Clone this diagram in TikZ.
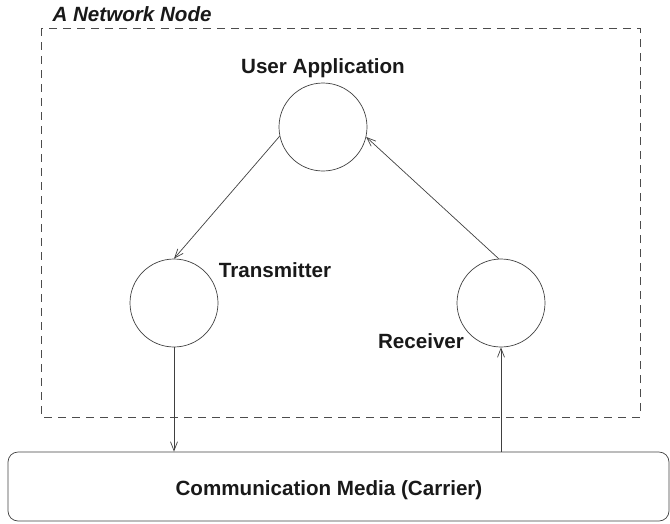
\documentclass[tikz,border=0pt]{standalone}
\usepackage{fontspec}
\setmainfont{Liberation Sans}
\usetikzlibrary{arrows.meta}

\begin{document}
\begin{tikzpicture}[x=1pt, y=-1pt,
    every node/.style = {font=\fontsize{20.6}{24}\selectfont\bfseries,
                         text=black!90},
    unit/.style  = {circle, draw=black!75, line width=0.7pt,
                    minimum size=88pt, inner sep=0pt},
    media/.style = {rectangle, rounded corners=10pt, draw=black!75,
                    line width=0.7pt, minimum width=661pt,
                    minimum height=69pt},
    flow/.style  = {draw=black!75, line width=0.7pt,
                    -{Straight Barb[length=9pt,width=7pt]}},
  ]
  \useasboundingbox (0,0) rectangle (670,523);

  % the network node
  \draw[black!70, line width=0.8pt, dash pattern=on 8pt off 6pt]
    (41,28) rectangle (640,417);
  \node[anchor=west, font=\fontsize{20.6}{24}\selectfont\bfseries\itshape]
    (nodetitle) at (49,14) {A Network Node};

  \node[unit] (app) at (323,127) {};
  \node[unit] (tx)  at (174,303) {};
  \node[unit] (rx)  at (501,303) {};
  \node (applabel) at (323,68)  {User Application};
  \node (txlabel)  at (275,270) {Transmitter};
  \node (rxlabel)  at (421,341) {Receiver};

  % the carrier
  \node[media] (carrier) at (338.5,486.5) {};
  \node (carrierlabel) at (329,490) {Communication Media (Carrier)};

  \draw[flow] (app.192) -- (tx.north);
  \draw[flow] (rx.93) -- (app.347);
  \draw[flow] (tx.south) -- (tx.south |- carrier.north);
  \draw[flow] (rx.south |- carrier.north) -- (rx.south);
\end{tikzpicture}
\end{document}
